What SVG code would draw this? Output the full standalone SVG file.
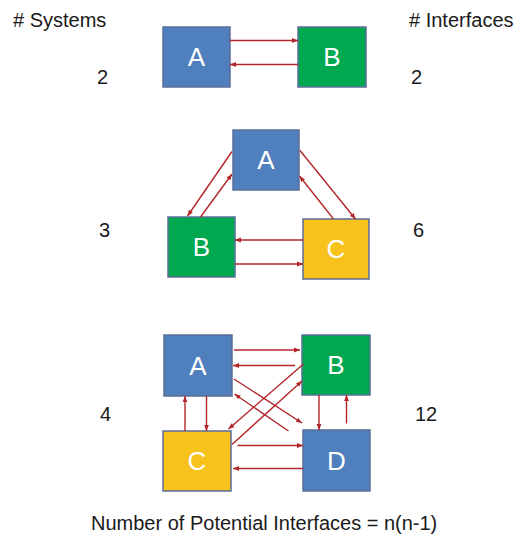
<svg xmlns="http://www.w3.org/2000/svg" width="527" height="537" viewBox="0 0 527 537">
<style>
.t{font-family:"Liberation Sans",Arial,sans-serif;font-size:20px;fill:#1a1a1a}
.l{font-family:"Liberation Sans",Arial,sans-serif;font-size:26px;fill:#ffffff;text-anchor:middle}
.box{stroke:#5b6d9a;stroke-width:1.5}
.blue{fill:#4f7fbd}
.green{fill:#00a84f}
.yellow{fill:#f8c21c}
.c line{stroke:#b3262a;stroke-width:1.4;marker-end:url(#ah)}
</style>
<defs>
<marker id="ah" viewBox="0 0 10 10" refX="10" refY="5" markerWidth="6" markerHeight="6" markerUnits="userSpaceOnUse" orient="auto">
<path d="M0,1 L10,5 L0,9 Z" fill="#b3262a"/>
</marker>
</defs>
<rect width="527" height="537" fill="#ffffff"/>
<g id="labels">
<text class="t" x="13" y="27"># Systems</text>
<text class="t" x="409" y="27"># Interfaces</text>
<text class="t" x="97" y="84">2</text>
<text class="t" x="411" y="84">2</text>
<text class="t" x="99" y="237">3</text>
<text class="t" x="413" y="237">6</text>
<text class="t" x="100" y="421">4</text>
<text class="t" x="415" y="421">12</text>
<text class="t" x="91" y="530">Number of Potential Interfaces = n(n-1)</text>
</g>
<g id="row1-A"><rect class="box blue" x="163" y="27" width="67" height="60"/><text class="l" x="196.5" y="66">A</text></g>
<g id="row1-B"><rect class="box green" x="298" y="27" width="68" height="60"/><text class="l" x="332" y="66">B</text></g>
<g id="row2-A"><rect class="box blue" x="233" y="130" width="66" height="60"/><text class="l" x="266" y="169">A</text></g>
<g id="row2-B"><rect class="box green" x="168" y="217" width="67" height="60"/><text class="l" x="201.5" y="256">B</text></g>
<g id="row2-C"><rect class="box yellow" x="303" y="219" width="66" height="60"/><text class="l" x="336" y="258">C</text></g>
<g id="row3-A"><rect class="box blue" x="164" y="335" width="68" height="61"/><text class="l" x="198" y="375">A</text></g>
<g id="row3-B"><rect class="box green" x="302" y="335" width="68" height="60"/><text class="l" x="336" y="374">B</text></g>
<g id="row3-C"><rect class="box yellow" x="163" y="431" width="68" height="60"/><text class="l" x="197" y="470">C</text></g>
<g id="row3-D"><rect class="box blue" x="303" y="430" width="67" height="61"/><text class="l" x="336.5" y="470">D</text></g>
<g id="connectors" class="c">
<line x1="230" y1="40.5" x2="298" y2="40.5"/>
<line x1="298" y1="64.5" x2="230" y2="64.5"/>
<line x1="232" y1="151.5" x2="187.5" y2="216"/>
<line x1="200.5" y1="217" x2="232" y2="174"/>
<line x1="300" y1="150.5" x2="355.5" y2="219"/>
<line x1="333.5" y1="219" x2="299.5" y2="176"/>
<line x1="303" y1="240" x2="235" y2="240"/>
<line x1="235" y1="264" x2="303" y2="264"/>
<line x1="234" y1="350" x2="300" y2="350"/>
<line x1="295" y1="365.5" x2="233" y2="365.5"/>
<line x1="234" y1="379" x2="302" y2="423"/>
<line x1="288.5" y1="431" x2="234.5" y2="394"/>
<line x1="303.5" y1="364" x2="228.5" y2="429"/>
<line x1="232" y1="444.5" x2="302" y2="381"/>
<line x1="237.5" y1="445.5" x2="303" y2="445.5"/>
<line x1="303" y1="468.5" x2="233" y2="468.5"/>
<line x1="185" y1="431" x2="185" y2="396"/>
<line x1="206.5" y1="396" x2="206.5" y2="431"/>
<line x1="319" y1="395" x2="319" y2="430"/>
<line x1="346.5" y1="423.5" x2="346.5" y2="395"/>
</g>
</svg>
